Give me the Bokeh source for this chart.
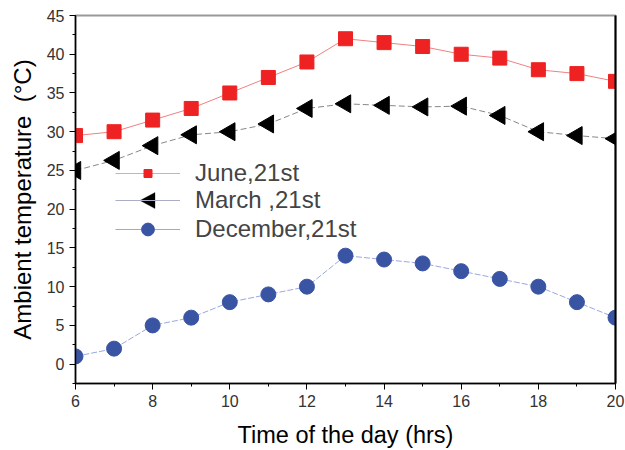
from bokeh.plotting import figure
from bokeh.models import Legend, LegendItem, LinearAxis, Range1d, FixedTicker, PolyAnnotation
from bokeh.embed import file_html
from bokeh.resources import INLINE

hours = [6, 7, 8, 9, 10, 11, 12, 13, 14, 15, 16, 17, 18, 19, 20]
june = [29.5, 30, 31.5, 33, 35, 37, 39, 42, 41.5, 41, 40, 39.5, 38, 37.5, 36.5]
march = [25, 26.3, 28.2, 29.6, 30, 31, 33, 33.6, 33.4, 33.2, 33.3, 32.1, 30, 29.5, 29.1]
december = [1, 2, 5, 6, 8, 9, 10, 14, 13.5, 13, 12, 11, 10, 8, 6]
x_ticks = [6, 8, 10, 12, 14, 16, 18, 20]
y_ticks = [0, 5, 10, 15, 20, 25, 30, 35, 40, 45]
series_labels = ["June,21st", "March ,21st", "December,21st"]

FONT = "Liberation Sans"
NAN = float("nan")

p = figure(width=625, height=450, output_backend="svg", toolbar_location=None,
           x_range=Range1d(6, 20), y_range=Range1d(-2.5, 45))
p.min_border_left = 75
p.min_border_right = 10
p.min_border_top = 15
p.min_border_bottom = 67
p.background_fill_color = "white"
p.border_fill_color = "white"
p.grid.visible = False
p.outline_line_color = "#999999"
p.outline_line_width = 2

for ax in (p.xaxis[0], p.yaxis[0]):
    ax.axis_line_color = "black"
    ax.axis_line_width = 1.5
    ax.major_tick_line_color = "black"
    ax.minor_tick_line_color = "black"
    ax.major_tick_out = 6
    ax.major_tick_in = 0
    ax.minor_tick_out = 3
    ax.minor_tick_in = 0
    ax.major_label_text_font = FONT
    ax.major_label_text_font_size = "16px"
    ax.major_label_text_color = "#333333"
    ax.axis_label_text_font = FONT
    ax.axis_label_text_font_style = "normal"
    ax.axis_label_text_color = "black"

p.xaxis.axis_label_text_font_size = "23.5px"
p.yaxis.axis_label_text_font_size = "24px"
p.xaxis.ticker = FixedTicker(ticks=x_ticks, minor_ticks=hours)
p.yaxis.ticker = FixedTicker(ticks=y_ticks, minor_ticks=[-2.5 + 2.5 * i for i in range(20)])
p.xaxis.axis_label = "Time of the day (hrs)"
p.yaxis.axis_label = "Ambient temperature\u00a0 (\u00b0C)"
p.xaxis.axis_label_standoff = 12
p.yaxis.axis_label_standoff = 8

right = LinearAxis(ticker=FixedTicker(ticks=[]), major_tick_line_color=None,
                   minor_tick_line_color=None, axis_line_color="black", axis_line_width=2)
p.add_layout(right, "right")

l1 = p.line(hours, june, line_color="#f08080", line_width=1)
m1 = p.scatter(hours, june, marker="square", size=14, fill_color="#ee2222", line_color="#ee2222")
l2 = p.line(hours, march, line_color="#888888", line_width=1, line_dash="6 3")
m2 = p.scatter(hours, march, marker="triangle", angle=1.5708, size=18,
               fill_color="black", line_color="black")
l3 = p.line(hours, december, line_color="#9aa8dd", line_width=1, line_dash="6 2")
m3 = p.scatter(hours, december, marker="circle", size=15, fill_color="#3a54a4", line_color="#3a54a4")

# legend-only lines (light, solid, as in the reference legend)
lg1 = p.line([NAN], [NAN], line_color="#f5a0a0", line_width=1)
lg2 = p.line([NAN], [NAN], line_color="#a8aec4", line_width=1)
lg3 = p.line([NAN], [NAN], line_color="#9aa8dd", line_width=1)

LEG_X = 40          # frame px from left to legend glyph start
ROW_CENTERS = [210, 183, 154]   # frame px from bottom, centre of each row
GLYPH_H = [20, 30, 32]
ROW_SHIFT = [4, 0, 0]

def make_legend(label, renderers, row, gh):
    lg = Legend(items=[LegendItem(label=label, renderers=renderers)])
    lg.background_fill_alpha = 0
    lg.border_line_color = None
    lg.label_text_font = FONT
    lg.label_text_font_size = "24px"
    lg.glyph_width = 65
    lg.glyph_height = gh
    lg.label_height = gh
    lg.padding = 0
    lg.margin = 0
    lg.spacing = 0
    lg.label_standoff = 15
    lg.location = (LEG_X, ROW_CENTERS[row] - gh // 2 - ROW_SHIFT[row])
    p.add_layout(lg, "center")

make_legend(series_labels[0], [lg1, m1], 0, GLYPH_H[0])
make_legend(series_labels[1], [lg2], 1, GLYPH_H[1])
make_legend(series_labels[2], [lg3, m3], 2, GLYPH_H[2])

# left-pointing triangle marker for the March legend entry
cx = LEG_X + 65 / 2
cy = ROW_CENTERS[1]
tri = PolyAnnotation(xs=[cx - 8, cx + 7, cx + 7], ys=[cy, cy + 8, cy - 8],
                     xs_units="screen", ys_units="screen",
                     fill_color="black", fill_alpha=1, line_color="black")
p.add_layout(tri)

open("out.html", "w").write(file_html(p, INLINE))
